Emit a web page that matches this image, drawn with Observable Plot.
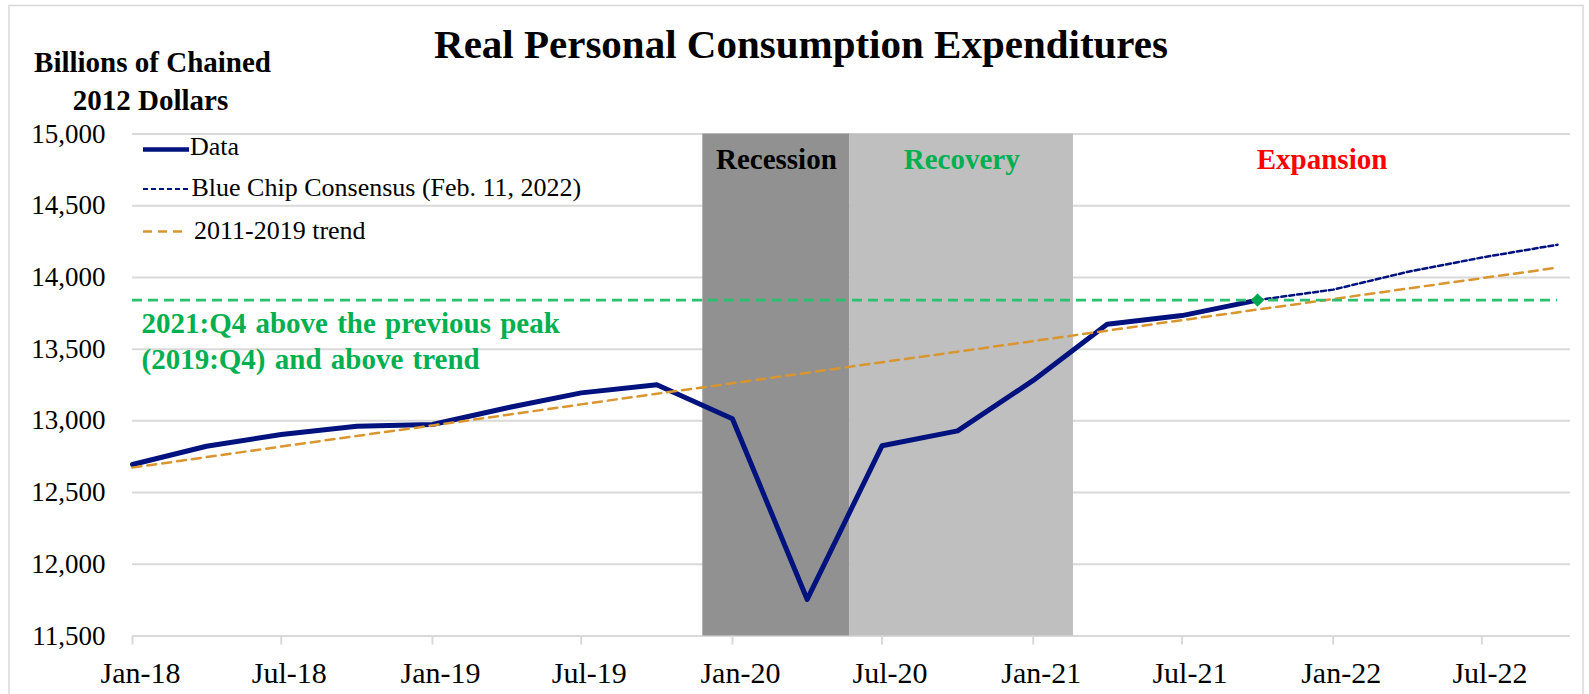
<!DOCTYPE html>
<html>
<head>
<meta charset="utf-8">
<script src="https://cdn.jsdelivr.net/npm/d3@7"></script>
<script src="https://cdn.jsdelivr.net/npm/@observablehq/plot@0.6"></script>
<style>
html, body { margin: 0; padding: 0; background: #fff; }
#chart { width: 1589px; height: 694px; overflow: hidden; position: relative; }
</style>
</head>
<body>
<div id="chart"></div>
<script>
// ---------------- data ----------------
const quarters = [
  "2018-01-01","2018-04-01","2018-07-01","2018-10-01",
  "2019-01-01","2019-04-01","2019-07-01","2019-10-01",
  "2020-01-01","2020-04-01","2020-07-01","2020-10-01",
  "2021-01-01","2021-04-01","2021-07-01","2021-10-01",
  "2022-01-01","2022-04-01","2022-07-01","2022-10-01"
];
// Real PCE, billions of chained 2012 dollars (2018:Q1 - 2021:Q4)
const actualValues = [12696, 12823, 12905, 12962, 12975, 13090, 13195, 13252,
                      13015, 11755, 12826, 12930, 13282, 13673, 13734, 13842];
// Blue Chip Consensus (2021:Q4 - 2022:Q4)
const blueChipValues = [13842, 13915, 14038, 14139, 14228];
// 2011-2019 trend (2018:Q1 - 2022:Q4)
const trendValues = [12674, 12747, 12821, 12895, 12968, 13041, 13115, 13189, 13262, 13335,
                     13409, 13482, 13556, 13629, 13702, 13776, 13849, 13922, 13995, 14068];
const phaseNames = ["Recession", "Recovery", "Expansion"];
const phaseStarts = ["2019-11-26", "2020-05-23", "2021-02-19"];
const phaseEnds = ["2020-05-23", "2021-02-19", "2022-10-17"];
const yTicks = [11500, 12000, 12500, 13000, 13500, 14000, 14500, 15000];
const xTicks = ["2018-01-01","2018-07-01","2019-01-01","2019-07-01","2020-01-01",
                "2020-07-01","2021-01-01","2021-07-01","2022-01-01","2022-07-01"];
const titleText = "Real Personal Consumption Expenditures";
const yLabelLines = ["Billions of Chained", "2012 Dollars"];
const legendLabels = ["Data", "Blue Chip Consensus (Feb. 11, 2022)", "2011-2019 trend"];
const noteLines = ["2021:Q4 above the previous peak", "(2019:Q4) and above trend"];

// ---------------- styles ----------------
const FONT = '"Liberation Serif", "Times New Roman", serif';
const NAVY = "#00127E";
const ORANGE = "#D9962F";
const GREEN_LINE = "#33BB70";
const GREEN_TEXT = "#00B050";
const phaseFill = {Recession: "#919191", Recovery: "#BFBFBF", Expansion: "none"};
const phaseTextColor = {Recession: "#000000", Recovery: "#00B050", Expansion: "#FF0000"};

// ---------------- build ----------------
const parse = d3.utcParse("%Y-%m-%d");
const dates = quarters.map(parse);
const actualData = actualValues.map((v, i) => ({date: dates[i], value: v}));
const forecastData = blueChipValues.map((v, i) => ({date: dates[dates.length - blueChipValues.length + i], value: v}));
const trendData = trendValues.map((v, i) => ({date: dates[i], value: v}));
const phases = phaseNames.map((n, i) => ({name: n, start: parse(phaseStarts[i]), end: parse(phaseEnds[i])}));
const peak = actualData[actualData.length - 1];
const peakRule = [{x1: dates[0], x2: dates[dates.length - 1], y: peak.value}];

const plot = Plot.plot({
  width: 1589,
  height: 694,
  marginLeft: 132,
  marginRight: 19,
  marginTop: 133.5,
  marginBottom: 58.5,
  style: {fontFamily: FONT, background: "transparent", color: "#000", overflow: "visible"},
  x: {type: "utc", domain: [dates[0], dates[dates.length - 1]], range: [132, 1557]},
  y: {domain: [yTicks[0], yTicks[yTicks.length - 1]]},
  color: {type: "identity"},
  marks: [
    Plot.gridY(yTicks, {stroke: "#D9D9D9", strokeOpacity: 1, strokeWidth: 2}),
    Plot.rect(phases.filter(d => phaseFill[d.name] !== "none"), {
      x1: "start", x2: "end",
      y1: yTicks[0], y2: yTicks[yTicks.length - 1],
      fill: d => phaseFill[d.name]
    }),
    Plot.text(phases, {
      x: d => new Date((+d.start + +d.end) / 2),
      text: "name",
      frameAnchor: "top",
      lineAnchor: "middle",
      dy: 26,
      fill: d => phaseTextColor[d.name],
      fontWeight: "bold",
      fontSize: 29
    }),
    Plot.line(actualData, {x: "date", y: "value", stroke: NAVY, strokeWidth: 5}),
    Plot.line(forecastData, {x: "date", y: "value", stroke: NAVY, strokeWidth: 2.5, strokeDasharray: "5,3"}),
    Plot.line(trendData, {x: "date", y: "value", stroke: ORANGE, strokeWidth: 2.5, strokeDasharray: "9,6"}),
    Plot.ruleY(peakRule, {x1: "x1", x2: "x2", y: "y", stroke: GREEN_LINE, strokeWidth: 2.8, strokeDasharray: "10,6"}),
    Plot.dot([peak], {x: "date", y: "value", symbol: "diamond2", r: 6, fill: "#00A651", stroke: "none"}),
    Plot.axisY(yTicks, {tickSize: 0, tickPadding: 27, fontSize: 27, tickFormat: d3.format(","), label: null, fill: "#000"}),
    Plot.axisX(xTicks.map(parse), {tickSize: 9, stroke: "#D9D9D9", strokeWidth: 2, fill: "none", label: null}),
    Plot.axisX(xTicks.map(parse), {tickSize: 0, tickPadding: 26, fontSize: 30, dx: 8,
      tickFormat: d3.utcFormat("%b-%y"), label: null, fill: "#000"})
  ]
});

document.getElementById("chart").appendChild(plot);

// ---------------- annotations ----------------
const svg = d3.select(plot);
svg.insert("rect", ":first-child")
  .attr("x", 9).attr("y", 5.5).attr("width", 1574).attr("height", 720)
  .attr("fill", "#fff").attr("stroke", "#D9D9D9").attr("stroke-width", 1.5);

const g = svg.append("g").attr("font-family", FONT).attr("text-anchor", "start");
g.append("text").attr("x", 801).attr("y", 58).attr("text-anchor", "middle")
  .attr("font-size", 41).attr("font-weight", "bold").attr("fill", "#000").text(titleText);

g.append("text").attr("x", 152.5).attr("y", 71.5).attr("text-anchor", "middle")
  .attr("font-size", 29).attr("font-weight", "bold").attr("fill", "#000").text(yLabelLines[0]);
g.append("text").attr("x", 150.5).attr("y", 109.5).attr("text-anchor", "middle")
  .attr("font-size", 29).attr("font-weight", "bold").attr("fill", "#000").text(yLabelLines[1]);

// note
g.append("text").attr("x", 141.5).attr("y", 333).attr("text-anchor", "start").attr("font-size", 29)
  .attr("font-weight", "bold").attr("fill", GREEN_TEXT).attr("word-spacing", 2).text(noteLines[0]);
g.append("text").attr("x", 141.5).attr("y", 368.5).attr("text-anchor", "start").attr("font-size", 29)
  .attr("font-weight", "bold").attr("fill", GREEN_TEXT).attr("word-spacing", 2).text(noteLines[1]);

// legend
const leg = g.append("g").attr("text-anchor", "start");
leg.append("line").attr("x1", 143).attr("x2", 189).attr("y1", 149.5).attr("y2", 149.5)
  .attr("stroke", NAVY).attr("stroke-width", 4.5);
leg.append("text").attr("x", 190).attr("y", 155).attr("text-anchor", "start").attr("font-size", 26)
  .attr("fill", "#000").text(legendLabels[0]);
leg.append("line").attr("x1", 143).attr("x2", 189).attr("y1", 189).attr("y2", 189)
  .attr("stroke", NAVY).attr("stroke-width", 2).attr("stroke-dasharray", "5,3");
leg.append("text").attr("x", 191.5).attr("y", 196).attr("text-anchor", "start").attr("font-size", 26)
  .attr("fill", "#000").text(legendLabels[1]);
leg.append("line").attr("x1", 143).attr("x2", 182).attr("y1", 231.5).attr("y2", 231.5)
  .attr("stroke", ORANGE).attr("stroke-width", 2.5).attr("stroke-dasharray", "9,6");
leg.append("text").attr("x", 194).attr("y", 239).attr("text-anchor", "start").attr("font-size", 26)
  .attr("fill", "#000").text(legendLabels[2]);
</script>
</body>
</html>
